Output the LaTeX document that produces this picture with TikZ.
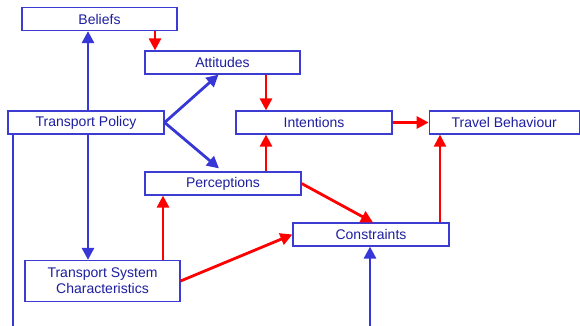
\documentclass[tikz,border=0pt]{standalone}
\usepackage{fontspec}
\setmainfont{Liberation Sans}
\usetikzlibrary{positioning, calc, arrows.meta}
\definecolor{tbBoxBlue}{RGB}{60,60,210}
\definecolor{tbLineBlue}{RGB}{55,55,215}
\definecolor{tbText}{RGB}{30,30,160}
\definecolor{tbRed}{RGB}{255,0,0}

\begin{document}
\begin{tikzpicture}[
        x=1pt, y=-1pt,
        box/.style={draw=tbBoxBlue, line width=1.2pt, fill=white, minimum width=155pt, minimum height=23pt, inner sep=0pt, font=\fontsize{14}{16}\selectfont, text=tbText, align=center},
        bluearr/.style={draw=tbLineBlue, line width=2.8pt, -{Triangle[length=12pt,width=12pt]}},
        redarr/.style={draw=tbRed, line width=2.8pt, -{Triangle[length=12pt,width=12pt]}},
        node distance=36pt
      ]
        \useasboundingbox (0,0) rectangle (580,326);
        % boxes
        \node[box] (bel) at (99.5,19) {Beliefs};
        \node[box] (att) at (222.5,62.5) {Attitudes};
        \node[box, minimum width=156pt] (pol) at (86,122.5) {Transport Policy};
        \node[box, minimum width=156pt] (int) at (314,122.5) {Intentions};
        \node[box, minimum width=150pt, right=of int] (beh) {Travel Behaviour};
        \node[box, minimum width=156pt] (per) at (223,183.5) {Perceptions};
        \node[box, minimum width=156pt] (con) at (371,234.5) {Constraints};
        \node[box, minimum height=41pt] (sys) at (102.5,281) {Transport System\\Characteristics};
        \coordinate (polout) at (13,326);
        \coordinate (conin) at (370,326);
        % policy links
        \draw[bluearr] ([xshift=2pt]pol.north) -- ([xshift=2pt]pol.north |- bel.south);
        \draw[bluearr] (pol.east) -- ([xshift=-4pt]att.south);
        \draw[bluearr] (pol.east) -- ([xshift=-4pt,yshift=3pt]per.north);
        \draw[bluearr] ([xshift=2pt]pol.south) -- ([xshift=2pt]pol.south |- sys.north);
        \draw[draw=tbLineBlue, line width=2.8pt] (pol.south west -| polout) -- (polout);
        \draw[bluearr] (conin) -- (conin |- con.south);
        % behaviour links
        \draw[redarr] ([xshift=55.5pt]bel.south) -- ([xshift=55.5pt]bel.south |- att.north);
        \draw[redarr] ([xshift=43.5pt]att.south) -- ([xshift=43.5pt]att.south |- int.north);
        \draw[redarr] ([xshift=43pt]per.north) -- ([xshift=43pt]per.north |- int.south);
        \draw[redarr] (int.east) -- (beh.west);
        \draw[redarr, line width=2pt] ([xshift=69pt]con.north) -- ([xshift=69pt]con.north |- beh.south);
        \draw[redarr] (per.east) -- ([xshift=2pt]con.north);
        \draw[redarr] ([xshift=60.5pt]sys.north) -- ([xshift=60.5pt]sys.north |- per.south);
        \draw[redarr] (sys.east) -- (con.west);
      \end{tikzpicture}
\end{document}
